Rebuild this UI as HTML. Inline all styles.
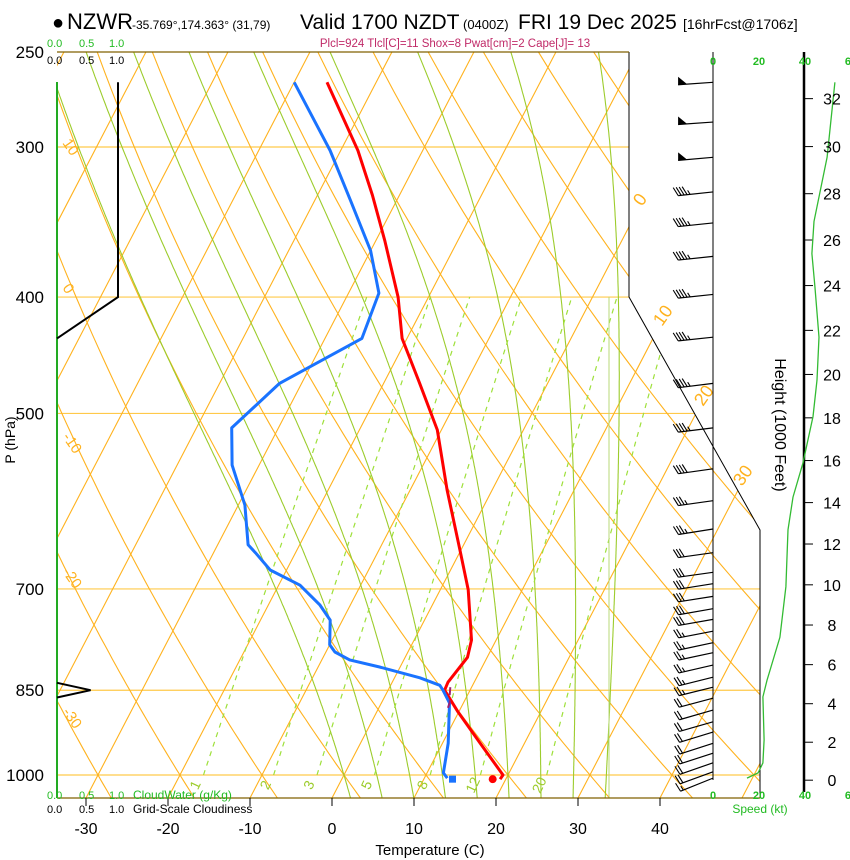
<!DOCTYPE html>
<html><head><meta charset="utf-8"><title>NZWR Skew-T</title>
<style>
html,body{margin:0;padding:0;background:#fff;}
svg{display:block;font-family:"Liberation Sans",Arial,sans-serif;}
</style></head>
<body>
<svg id="chart" width="850" height="860" viewBox="0 0 850 860" xmlns="http://www.w3.org/2000/svg">
<defs>
<clipPath id="plotclip"><polygon points="57,52 629,52 629,297 760,530 760,798 57,798"/></clipPath>
</defs>
<g id="title">
<text x="52" y="29" font-size="20">●</text>
<text x="67" y="29" font-size="22">NZWR</text>
<text x="132" y="29" font-size="12">-35.769°,174.363° (31,79)</text>
<text x="300" y="29" font-size="21">Valid 1700 NZDT</text>
<text x="463" y="29" font-size="13">(0400Z)</text>
<text x="518" y="29" font-size="21">FRI 19 Dec 2025</text>
<text x="683" y="29" font-size="14">[16hrFcst@1706z]</text>
</g>
<text x="455" y="47" font-size="11.5" fill="#c02a68" text-anchor="middle">Plcl=924 Tlcl[C]=11 Shox=8 Pwat[cm]=2 Cape[J]= 13</text>
<g id="grid" clip-path="url(#plotclip)"></g>
<g id="frame"></g>
<g id="series" clip-path="url(#plotclip)"></g>
<g id="wind"></g>
<g id="axes"></g>
</svg>
<script>
// ---- data ----
const tempP = [265,302,329,359,400,433,472,516,579,650,701,772,798,837,850,886,941,1000,1008];
const tempC = [-46.0,-37.9,-33.3,-28.9,-23.7,-20.6,-15.6,-10.5,-5.5,-0.1,3.4,7.0,7.6,6.8,6.9,9.9,14.6,19.4,19.3];
const dewP = [265,302,332,366,397,433,472,514,552,596,643,653,675,695,722,743,779,790,802,813,830,842,850,871,941,996,1006];
const dewC = [-50.0,-41.3,-35.7,-30.0,-26.3,-25.5,-32.7,-35.7,-33.3,-29.2,-26.3,-24.9,-22.0,-17.4,-13.7,-11.5,-10.0,-8.9,-6.6,-2.5,3.1,6.0,6.7,8.3,10.7,12.0,12.8];
const sfcTemp = 18.4;
const sfcDew = 13.5;
const sfcP = 1008;
const parcelP = [845,860,870,885];
const parcelC = [7.4,7.9,8.3,8.5];
const cloudP = [265,400,433];
const cloudFrac = [1.0,1.0,0.0];
const cwP = [838,850,862];
const cwVal = [0.0,0.55,0.0];
const speedP = [265,306,346,368,392,432,469,503,550,587,625,697,768,834,861,935,977,996,1006];
const speedKt = [53.0,49.6,43.9,43.0,44.3,46.1,45.2,43.5,39.1,34.8,32.6,31.7,29.1,23.5,21.7,22.2,21.7,19.6,14.8];
const barbP = [265,286,306,327,347,370,398,432,472,514,556,591,624,653,678,693,710,727,742,759,776,791,810,829,845,863,883,903,921,941,959,977,994,1006];
const barbKt = [50,50,50,45,45,45,45,45,45,45,40,35,35,30,30,30,30,30,30,25,25,25,25,25,25,20,20,20,20,20,20,20,20,15];
const barbDir = [266,266,265,264,264,264,264,264,263,263,262,262,261,262,262,261,261,260,260,259,258,258,257,256,256,255,254,254,253,252,252,251,250,248];
const pLevels = [250,300,400,500,700,850,1000];
const tempTicks = [-30,-20,-10,0,10,20,30,40];
const heightTicks = [0,2,4,6,8,10,12,14,16,18,20,22,24,26,28,30,32];
const mixRatios = [1,2,3,5,8,12,20];
const mixLabels = ["1","2","3","5","8","12","20"];
const speedTicks = [0,20,40,60];

// ---- scales ----
const NS="http://www.w3.org/2000/svg";
function yP(p){return 775-521.6*Math.log(1000/p);}
function pY(y){return 1000*Math.exp(-(775-y)/521.6);}
function xT(T,y){return 332+8.2*T+0.52*(798-y);}
function xSpd(k){return 713+2.3*k;}
function yH(kft){const p=1010*Math.pow(1-kft*1000/145366,1/0.190284);return yP(p);}
function el(tag,attrs,parent){const e=document.createElementNS(NS,tag);for(const k in attrs)e.setAttribute(k,attrs[k]);parent.appendChild(e);return e;}
function pathFrom(pts){return pts.map((q,i)=>(i?'L':'M')+q[0].toFixed(1)+','+q[1].toFixed(1)).join(' ');}
const grid=document.getElementById('grid'),frame=document.getElementById('frame'),series=document.getElementById('series'),wind=document.getElementById('wind'),axes=document.getElementById('axes');
const ORANGE="#ffb21e", MGREEN="#9ccc2c";

pLevels.forEach(p=>{
  const y=yP(p);
  const l=el('line',{x1:57,y1:y,x2:760,y2:y,stroke:"#ffc94a","stroke-width":1.2},grid);
  
  
});
for(let T=-140;T<=60;T+=10){
  const l=el('line',{x1:xT(T,798),y1:798,x2:xT(T,52),y2:52,stroke:ORANGE,"stroke-width":1.1},grid);
  
  
}
for(let th=-40;th<=140;th+=10){
  const pts=[];
  for(let p=1050;p>=245;p-=10){const T=(th+273.15)*Math.pow(p/1000,0.286)-273.15;const y=yP(p);pts.push([xT(T,y),y]);}
  const l=el('path',{d:pathFrom(pts),fill:"none",stroke:ORANGE,"stroke-width":1.1},grid);
  
  
}
function esat(Tk){return 6.112*Math.exp(17.67*(Tk-273.15)/(Tk-29.65));}
function moistGrad(p,T){const es=esat(T);const rs=0.622*es/(p-es);return (287*T+2.5e6*rs)/(1005+2.5e6*2.5e6*rs*0.622/(287*T*T))/p;}
for(let tw=0;tw<=32;tw+=4){
  const pts=[];
  let T=tw+273.15;const up=[];
  for(let p=1000;p>=245;p-=2){up.push([p,T]);T-=moistGrad(p,T)*2;}
  T=tw+273.15;const dn=[];
  for(let p=1000;p<=1050;p+=2){dn.push([p,T]);T+=moistGrad(p,T)*2;}
  dn.reverse().concat(up).forEach(q=>{const y=yP(q[0]);pts.push([xT(q[1]-273.15,y),y]);});
  const l=el('path',{d:pathFrom(pts),fill:"none",stroke:MGREEN,"stroke-width":1.1},grid);
  
  
}
function tMix(w,p){const es=w*p/(622+w);const a=Math.log(es/6.112);return 243.5*a/(17.67-a);}
mixRatios.forEach((w,i)=>{
  const pts=[];
  for(let p=1000;p>=400;p-=10){const y=yP(p);pts.push([xT(tMix(w,p),y),y]);}
  const l=el('path',{d:pathFrom(pts),fill:"none",stroke:"#9ee03a","stroke-width":1.2,"stroke-dasharray":"5,5"},grid);
  
  
  const y=787, x=xT(tMix(w,pY(y)),y);
  const t=el('text',{x:x,y:y,"font-size":14,fill:"#9ccc2c","text-anchor":"middle",transform:`rotate(-65 ${x} ${y})`},grid);
  t.textContent=mixLabels[i];
  
  
});
el('line',{x1:609,y1:297,x2:609,y2:798,stroke:"#b8d878","stroke-width":1},grid);

[["10",62,143],["0",62,288],["-10",62,437],["-20",62,572],["-30",62,712]].forEach(a=>{
  const t=el('text',{x:a[1],y:a[2],"font-size":15,fill:ORANGE,transform:`rotate(55 ${a[1]} ${a[2]})`},axes);
  t.textContent=a[0];
  
  
});
[["0",642,207],["10",662,327],["20",703,407],["30",742,487]].forEach(a=>{
  const t=el('text',{x:a[1],y:a[2],"font-size":18,fill:ORANGE,transform:`rotate(-55 ${a[1]} ${a[2]})`},axes);
  t.textContent=a[0];
  
  
});

el('polyline',{points:"629,52 629,297 760,530 760,798",fill:"none",stroke:"#000","stroke-width":1},frame);
el('line',{x1:57,y1:52,x2:629,y2:52,stroke:"#806000","stroke-width":1.3},frame);
el('line',{x1:57,y1:798,x2:760,y2:798,stroke:"#806000","stroke-width":1.3},frame);
el('line',{x1:57,y1:82,x2:57,y2:798,stroke:"#22aa22","stroke-width":2},frame);

function drawSeries(P,C,color,name,w){
  const pts=P.map((p,i)=>{const y=yP(p);return [xT(C[i],y),y];});
  const l=el('path',{d:pathFrom(pts),fill:"none",stroke:color,"stroke-width":w,"stroke-linejoin":"round"},series);
  
  
}
drawSeries(tempP,tempC,"#ff0000","temperature-line",3);
drawSeries(dewP,dewC,"#1a73ff","dewpoint-line",3);
{
  const pts=parcelP.map((p,i)=>{const y=yP(p);return [xT(parcelC[i],y),y];});
  const l=el('path',{d:pathFrom(pts),fill:"none",stroke:"#a02070","stroke-width":2,"stroke-dasharray":"8,5"},series);
  
  
  const ys=yP(sfcP);
  const c1=el('circle',{cx:xT(sfcTemp,ys),cy:ys,r:4,fill:"#ff0000"},series);
  
  
  const c2=el('rect',{x:xT(sfcDew,ys)-3.5,y:ys-3.5,width:7,height:7,fill:"#1a73ff"},series);
  
  
}
{
  const pts=cloudP.map((p,i)=>[57+61*cloudFrac[i],yP(p)]);
  const l=el('path',{d:pathFrom(pts),fill:"none",stroke:"#000","stroke-width":2},axes);
  
  
  const pts2=cwP.map((p,i)=>[57+61*cwVal[i],yP(p)]);
  const l2=el('path',{d:pathFrom(pts2),fill:"none",stroke:"#000","stroke-width":2},axes);
  
  
}

pLevels.forEach(p=>{
  const t=el('text',{x:44,y:yP(p)+6,"font-size":17,"text-anchor":"end"},axes);
  t.textContent=String(p);
  
  
});
{const t=el('text',{x:15,y:440,"font-size":14,"text-anchor":"middle",transform:"rotate(-90 15 440)"},axes);t.textContent="P (hPa)";}
tempTicks.forEach(T=>{
  const x=xT(T,798);
  el('line',{x1:x,y1:798,x2:x,y2:806,stroke:"#000","stroke-width":1},axes);
  const t=el('text',{x:x,y:834,"font-size":16,"text-anchor":"middle"},axes);
  t.textContent=String(T);
  
  
});
{const t=el('text',{x:430,y:855,"font-size":15,"text-anchor":"middle"},axes);t.textContent="Temperature (C)";}
function txt(s,x,y,fs,fill,name,anchor){const t=el('text',{x:x,y:y,"font-size":fs,fill:fill,"text-anchor":anchor||"start"},axes);t.textContent=s;return t;}
txt("0.0",47,47,11,"#22bb22","cloudwater-scale-top");txt("0.5",79,47,11,"#22bb22","cloudwater-scale-top");txt("1.0",109,47,11,"#22bb22","cloudwater-scale-top");
txt("0.0",47,64,11,"#000","cloudiness-scale-top");txt("0.5",79,64,11,"#000","cloudiness-scale-top");txt("1.0",109,64,11,"#000","cloudiness-scale-top");
txt("0.0",47,799,11,"#22bb22","cloudwater-scale-bottom");txt("0.5",79,799,11,"#22bb22","cloudwater-scale-bottom");txt("1.0",109,799,11,"#22bb22","cloudwater-scale-bottom");
txt("CloudWater (g/Kg)",133,799,12,"#22bb22","cloudwater-legend");
txt("0.0",47,813,11,"#000","cloudiness-scale-bottom");txt("0.5",79,813,11,"#000","cloudiness-scale-bottom");txt("1.0",109,813,11,"#000","cloudiness-scale-bottom");
txt("Grid-Scale Cloudiness",133,813,12,"#000","cloudiness-legend");

el('line',{x1:713,y1:52,x2:713,y2:780,stroke:"#000","stroke-width":1},wind);
el('line',{x1:804,y1:52,x2:804,y2:792,stroke:"#000","stroke-width":2.5},wind);
speedTicks.forEach(k=>{
  const x=xSpd(k);
  const a=txt(String(k),x,65,11,"#22bb22","speed-tick-top","middle");a.setAttribute('font-weight','bold');
  const b=txt(String(k),x,799,11,"#22bb22","speed-tick-bottom","middle");b.setAttribute('font-weight','bold');
});
txt("Speed (kt)",760,813,12,"#22bb22","speed-axis-title","middle");
heightTicks.forEach(h=>{
  const y=yH(h);
  el('line',{x1:804,y1:y,x2:813,y2:y,stroke:"#000","stroke-width":1},wind);
  txt(String(h),832,y+6,16,"#000","height-tick-label","middle");
});
{const t=el('text',{x:775,y:425,"font-size":16,"text-anchor":"middle",transform:"rotate(90 775 425)"},axes);t.textContent="Height (1000 Feet)";}
{
  const pts=speedP.map((p,i)=>[xSpd(speedKt[i]),yP(p)]);
  const l=el('path',{d:pathFrom(pts),fill:"none",stroke:"#33bb33","stroke-width":1.3},wind);
  
  
}
barbP.forEach((p,i)=>{
  const y0=yP(p), x0=713, L=35;
  const ang=(barbDir[i]-270)*Math.PI/180;
  const ux=-Math.cos(ang), uy=-Math.sin(ang);
  const ex=x0+ux*L, ey=y0+uy*L;
  const g=el('g',{},wind);
  
  
  el('line',{x1:x0,y1:y0,x2:ex,y2:ey,stroke:"#000","stroke-width":1.2},g);
  let k=barbKt[i], pos=0;
  while(k>=50){
    const bx=ex-ux*pos, by=ey-uy*pos;
    el('polygon',{points:`${bx},${by} ${bx},${by-8} ${bx-ux*9},${by-uy*9}`,fill:"#000"},g);
    pos+=10;k-=50;
  }
  while(k>=10){
    const bx=ex-ux*pos, by=ey-uy*pos;
    el('line',{x1:bx,y1:by,x2:bx-5,y2:by-8,stroke:"#000","stroke-width":1.1},g);
    pos+=3;k-=10;
  }
  if(k>=5){
    const bx=ex-ux*pos, by=ey-uy*pos;
    el('line',{x1:bx,y1:by,x2:bx-2.5,y2:by-4,stroke:"#000","stroke-width":1.1},g);
  }
});
</script>
</body></html>
